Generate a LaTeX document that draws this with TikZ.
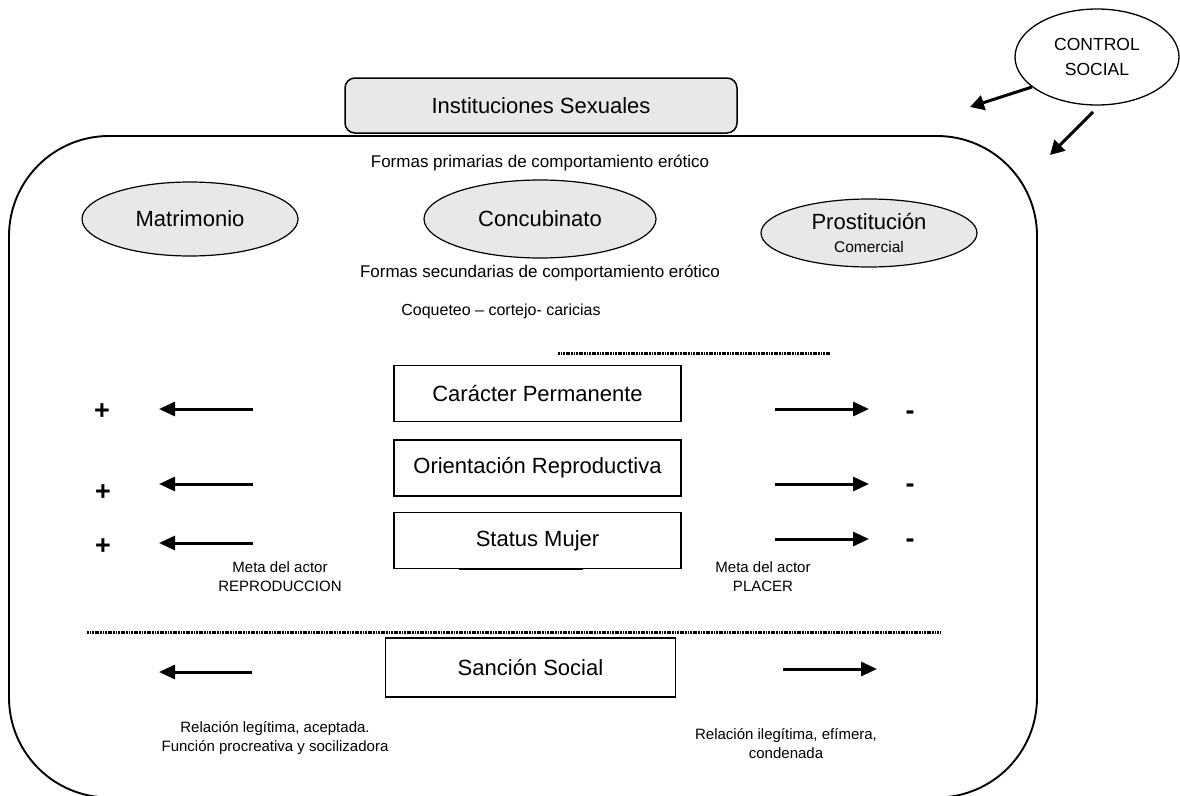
\documentclass[tikz,border=0pt]{standalone}
\usepackage{fontspec}
\setmainfont{Liberation Sans}
\usetikzlibrary{shapes.geometric,arrows.meta}
\definecolor{shade}{HTML}{E8E8E8}
\tikzset{
  big/.style={font=\fontsize{22}{26}\selectfont},
  small/.style={font=\fontsize{17}{20}\selectfont},
  tiny/.style={font=\fontsize{15}{19}\selectfont, align=center},
  oval/.style={ellipse, draw, line width=1.2pt, fill=shade, inner sep=0pt, big},
  stepbox/.style={draw, line width=1.4pt, minimum width=287pt, minimum height=56pt, inner sep=0pt, big},
  arr/.style={line width=3pt, -{Triangle[length=16pt,width=14pt]}},
  sarr/.style={line width=3pt, -{Triangle[length=14pt,width=15pt]}},
  dotline/.style={line width=3pt, dash pattern=on 1.8pt off 0.8pt},
  sign/.style={font=\fontsize{27}{30}\selectfont\bfseries}
}
\begin{document}
\begin{tikzpicture}[x=1pt,y=-1pt]
\useasboundingbox (0,0) rectangle (1180,795);
\begin{scope}
\clip (0,0) rectangle (1180,795);
% big rounded frame
\draw[line width=1.9pt, rounded corners=100pt] (9,136) rectangle (1037,797.5);
\end{scope}

% Instituciones Sexuales
\node[draw, line width=1.5pt, rounded corners=10pt, fill=shade, minimum width=392pt, minimum height=55pt, big] (inst) at (541,105.5) {Instituciones Sexuales};

% control social
\node[ellipse, draw, line width=1.3pt, minimum width=164pt, minimum height=96pt, inner sep=0pt, align=center, font=\fontsize{17.5}{25}\selectfont] (ctrl) at (1097,57) {CONTROL\\SOCIAL};
\coordinate (c1s) at (1032,87);
\coordinate (c1e) at (970,107);
\coordinate (c2s) at (1093,112);
\coordinate (c2e) at (1050,155);
\draw[sarr] (c1s) -- (c1e);
\draw[sarr] (c2s) -- (c2e);

\node[small] (prim) at (540,163) {Formas primarias de comportamiento erótico};

\node[oval, minimum width=216pt, minimum height=74pt] (matr) at (190,219) {Matrimonio};
\node[oval, minimum width=232pt, minimum height=78pt] (conc) at (540,219) {Concubinato};
\node[oval, minimum width=216pt, minimum height=68pt, align=center] (prost) at (869,233) {Prostitución\\[-3pt]{\fontsize{15.5}{18}\selectfont Comercial}};

\node[small] (sec) at (540,273) {Formas secundarias de comportamiento erótico};
\node[font=\fontsize{16}{20}\selectfont] (coq) at (501,311) {Coqueteo -- cortejo- caricias};

\coordinate (d1a) at (558,353);
\coordinate (d1b) at (830,353);
\draw[dotline] (d1a) -- (d1b);

\node[stepbox] (car) at (537.5,393.5) {Carácter Permanente};
\node[stepbox] (ori) at (537.5,468) {Orientación Reproductiva};
\node[stepbox] (sta) at (537.5,540.5) {Status Mujer};
\coordinate (sa) at (459,569.5);
\coordinate (sb) at (583,569.5);
\draw[line width=1.8pt] (sa) -- (sb);

% left arrows
\coordinate (l1s) at (253,409); \coordinate (l1e) at (159,409);
\coordinate (l2s) at (253,484); \coordinate (l2e) at (159,484);
\coordinate (l3s) at (253,543); \coordinate (l3e) at (159,543);
\draw[arr] (l1s) -- (l1e);
\draw[arr] (l2s) -- (l2e);
\draw[arr] (l3s) -- (l3e);
\node[sign] (p1) at (102,412) {+};
\node[sign] (p2) at (103,493) {+};
\node[sign] (p3) at (103,547) {+};

% right arrows
\coordinate (r1s) at (775,409); \coordinate (r1e) at (869,409);
\coordinate (r2s) at (775,484); \coordinate (r2e) at (869,484);
\coordinate (r3s) at (775,539); \coordinate (r3e) at (869,539);
\draw[arr] (r1s) -- (r1e);
\draw[arr] (r2s) -- (r2e);
\draw[arr] (r3s) -- (r3e);
\node[sign] (m1) at (910,415) {-};
\node[sign] (m2) at (910,488) {-};
\node[sign] (m3) at (910,543) {-};

\node[tiny] (metaL) at (280,577) {Meta del actor\\REPRODUCCION};
\node[tiny] (metaR) at (763,577) {Meta del actor\\PLACER};

\coordinate (d2a) at (87,632);
\coordinate (d2b) at (940,632);
\draw[dotline] (d2a) -- (d2b);

\node[stepbox, minimum width=290pt, minimum height=59pt] (sanc) at (530.5,667.5) {Sanción Social};
\coordinate (bls) at (252,672); \coordinate (ble) at (159,672);
\coordinate (brs) at (783,669); \coordinate (bre) at (877,669);
\draw[arr] (bls) -- (ble);
\draw[arr] (brs) -- (bre);

\node[tiny] (legit) at (275,738) {Relación legítima, aceptada.\\Función procreativa y socilizadora};
\node[tiny] (ilegit) at (786,744) {Relación ilegítima, efímera,\\condenada};
\end{tikzpicture}
\end{document}
